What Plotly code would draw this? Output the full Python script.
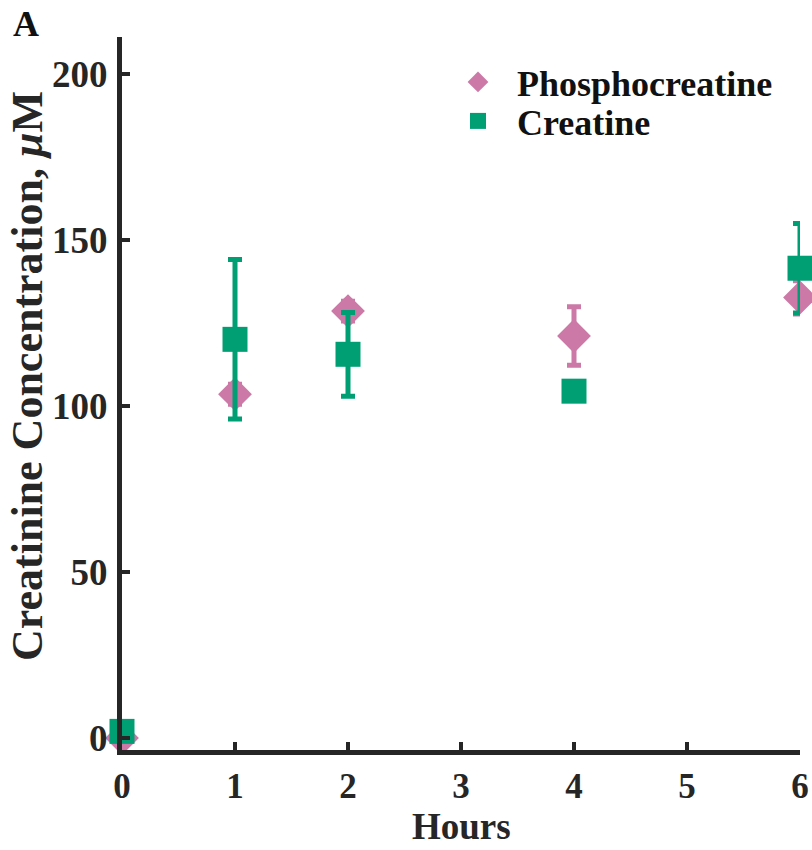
import plotly.graph_objects as go

hours = [0, 1, 2, 4, 6]
phospho = [0, 103.5, 128.5, 121, 132.6]
phospho_err = [0, 3, 3, 8.8, 5]
creatine = [2, 120, 115.5, 104.4, 141.4]
creatine_err = [1, 24, 12.6, 1.5, 13.5]
x_ticks = [0, 1, 2, 3, 4, 5, 6]
y_ticks = [0, 50, 100, 150, 200]

PINK = "#CC79A7"
GREEN = "#009E73"
AX = "#262626"
FONT = "Liberation Serif, Times New Roman, serif"

fig = go.Figure()
fig.add_trace(go.Scatter(
    x=hours, y=phospho, mode="markers", name="<b>Phosphocreatine</b>",
    marker=dict(symbol="diamond", size=26, color=PINK, line=dict(width=0)),
    error_y=dict(type="data", array=phospho_err, visible=True, color=PINK, thickness=5, width=7),
    cliponaxis=False, legend="legend",
))
fig.add_trace(go.Scatter(
    x=hours, y=creatine, mode="markers", name="<b>Creatine</b>",
    marker=dict(symbol="square", size=25, color=GREEN, line=dict(width=0)),
    error_y=dict(type="data", array=creatine_err, visible=True, color=GREEN, thickness=5, width=7),
    cliponaxis=False, legend="legend2",
))

axis_common = dict(
    showline=True, linewidth=5, linecolor=AX, mirror=False,
    ticks="inside", ticklen=8, tickwidth=4, tickcolor=AX,
    showgrid=False, zeroline=False, automargin=False,
)

legend_common = dict(xanchor="left", yanchor="top", itemwidth=68,
                     font=dict(family=FONT, size=36, color="#111111"),
                     bgcolor="rgba(0,0,0,0)", itemsizing="trace")

fig.update_layout(
    width=812, height=850,
    margin=dict(l=122, r=12, t=37, b=100),
    paper_bgcolor="white", plot_bgcolor="white",
    font=dict(family=FONT, color="#111111"),
    xaxis=dict(range=[0, 6], tickvals=x_ticks, ticktext=[str(v) for v in x_ticks],
               ticklabelstandoff=1,
               tickfont=dict(family=FONT, size=35, color=AX, weight="bold"),
               **axis_common),
    yaxis=dict(range=[-3.6, 211], tickvals=y_ticks, ticktext=[str(v) for v in y_ticks],
               ticklabelstandoff=2,
               tickfont=dict(family=FONT, size=37, color=AX, weight="bold"),
               **axis_common),
    legend=dict(x=(439 - 122) / 678, y=(750 - 52) / 713, **legend_common),
    legend2=dict(x=(439 - 122) / 678, y=(750 - 91) / 713, **legend_common),
    showlegend=True,
    annotations=[
        dict(text="<b>A</b>", xref="paper", yref="paper",
             x=(26 - 122) / 678, y=(750 - 24) / 713, xanchor="center", yanchor="middle",
             showarrow=False, font=dict(family=FONT, size=36, color="#111111")),
        dict(text="<b>Creatinine Concentration, <i>μ</i>M</b>", xref="paper", yref="paper",
             x=(28 - 122) / 678, y=(750 - 376) / 713, xanchor="center", yanchor="middle",
             textangle=-90, showarrow=False, font=dict(family=FONT, size=44, color=AX)),
        dict(text="<b>Hours</b>", xref="paper", yref="paper",
             x=0.5, y=(750 - 849) / 713, xanchor="center", yanchor="bottom",
             showarrow=False, font=dict(family=FONT, size=37, color=AX)),
    ],
)

fig.write_html("out.html")
